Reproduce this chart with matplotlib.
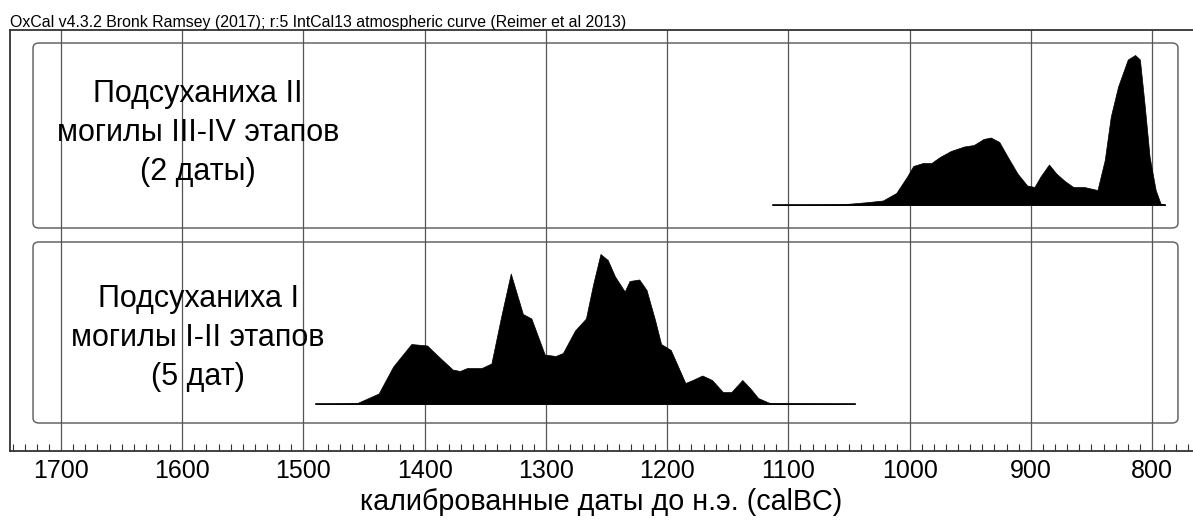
import numpy as np
import matplotlib.pyplot as plt
from matplotlib.patches import FancyBboxPatch

plt.rcParams['font.family'] = ['Liberation Sans', 'DejaVu Sans']

# Подсуханиха II (2 даты): годы до н.э. и относительная плотность
years_2 = [1113, 1055, 1036, 1022, 1011, 1002, 997, 989, 982, 975, 966, 955,
           947, 939, 933, 926, 919, 911, 903, 897, 892, 885, 879, 872, 865,
           856, 845, 839, 834, 828, 820, 814, 810, 806, 802, 797, 793, 789]
dens_2 = [0.0, 0.005, 0.018, 0.03, 0.08, 0.19, 0.26, 0.28, 0.28, 0.32, 0.36,
          0.39, 0.40, 0.44, 0.45, 0.42, 0.32, 0.21, 0.13, 0.12, 0.19, 0.27,
          0.21, 0.16, 0.12, 0.12, 0.10, 0.30, 0.59, 0.79, 0.97, 1.0, 0.97,
          0.66, 0.32, 0.10, 0.01, 0.0]

# Подсуханиха I (5 дат)
years_1 = [1490, 1456, 1438, 1426, 1411, 1398, 1389, 1377, 1371, 1365, 1353,
           1345, 1337, 1329, 1319, 1312, 1301, 1292, 1286, 1276, 1267, 1261,
           1255, 1249, 1243, 1235, 1231, 1223, 1217, 1210, 1205, 1197, 1191,
           1185, 1179, 1171, 1163, 1154, 1147, 1138, 1131, 1125, 1115, 1045]
dens_1 = [0.0, 0.005, 0.07, 0.25, 0.40, 0.39, 0.32, 0.23, 0.22, 0.24, 0.24,
          0.27, 0.58, 0.87, 0.60, 0.57, 0.33, 0.32, 0.34, 0.49, 0.57, 0.80,
          1.0, 0.96, 0.85, 0.75, 0.82, 0.83, 0.76, 0.56, 0.40, 0.36, 0.25,
          0.14, 0.16, 0.19, 0.16, 0.08, 0.08, 0.16, 0.10, 0.04, 0.005, 0.0]

labels = ['Подсуханиха II\nмогилы III-IV этапов\n(2 даты)',
          'Подсуханиха I\nмогилы I-II этапов\n(5 дат)']
major_ticks = [1700, 1600, 1500, 1400, 1300, 1200, 1100, 1000, 900, 800]

header = ('OxCal v4.3.2 Bronk Ramsey (2017); r:5 IntCal13 atmospheric curve '
          '(Reimer et al 2013)')

W, H = 1193, 521
fig = plt.figure(figsize=(W / 100, H / 100), dpi=100)
ax = fig.add_axes([10 / W, 70 / H, (W - 10) / W, 421 / H])
ax.set_xlim(1742.1, 766.2)
ax.set_ylim(0, 421)

# рамки панелей (x - годы, y - пиксели от оси)
panels = [(223, 408), (28, 209)]
label_y = [318, 113]
for y0, y1 in panels:
    box = FancyBboxPatch((778.6, y0), 1723.1 - 778.6, y1 - y0,
                         boxstyle='round,pad=0,rounding_size=5',
                         fc='white', ec='#666666', lw=1.1, zorder=1)
    ax.add_patch(box)

for xv in major_ticks:
    ax.axvline(xv, color='#555555', lw=0.9, zorder=2)

series = [(years_2, dens_2, 246), (years_1, dens_1, 47)]
for (yrs, dens, base), lab, ly in zip(series, labels, label_y):
    yrs = np.array(yrs)
    dens = np.array(dens)
    ax.fill_between(yrs, base, base + 150 * dens, color='black', lw=0.5,
                    zorder=3)
    ax.plot([yrs.min(), yrs.max()], [base, base], color='black', lw=1.2,
            zorder=3)
    ax.text(1587, ly, lab, ha='center', va='center',
            fontsize=22, linespacing=1.38, zorder=4)

ax.set_xticks(major_ticks)
ax.set_xticks(np.arange(1740, 766, -10), minor=True)
ax.tick_params(axis='x', which='major', direction='in', length=0,
               labelsize=18, pad=6)
ax.tick_params(axis='x', which='minor', direction='in', length=5,
               width=0.8, color='#333333')
ax.set_yticks([])
for s in ['left', 'top', 'bottom']:
    ax.spines[s].set_color('#333333')
    ax.spines[s].set_linewidth(1.3)
ax.spines['right'].set_visible(False)

ax.set_xlabel('калиброванные даты до н.э. (calBC)', fontsize=20.7, labelpad=3)

fig.text(10 / W, 1 - 15 / H, header, ha='left', va='top', fontsize=11.4)

fig.savefig('out.png', dpi=100)
